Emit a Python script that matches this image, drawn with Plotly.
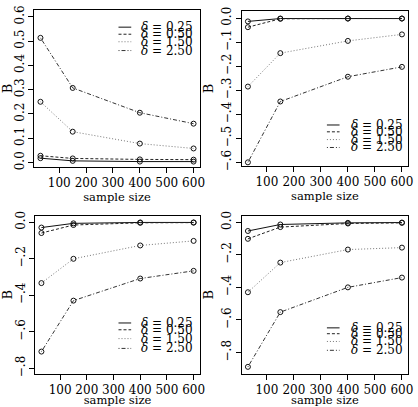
import plotly.graph_objects as go
from plotly.subplots import make_subplots

sample_size = [30, 150, 400, 600]
delta_labels = ["0.25", "0.50", "1.50", "2.50"]

# panel 1 (top-left)
p1_d025 = [0.018, 0.007, 0.004, 0.004]
p1_d050 = [0.028, 0.017, 0.013, 0.012]
p1_d150 = [0.250, 0.127, 0.078, 0.058]
p1_d250 = [0.513, 0.307, 0.205, 0.160]
# panel 2 (top-right)
p2_d025 = [-0.014, -0.002, -0.002, -0.002]
p2_d050 = [-0.038, -0.003, -0.002, -0.002]
p2_d150 = [-0.285, -0.146, -0.095, -0.068]
p2_d250 = [-0.600, -0.347, -0.244, -0.203]
# panel 3 (bottom-left)
p3_d025 = [-0.030, -0.007, -0.002, -0.002]
p3_d050 = [-0.060, -0.016, -0.004, -0.003]
p3_d150 = [-0.334, -0.201, -0.128, -0.103]
p3_d250 = [-0.709, -0.430, -0.309, -0.267]
# panel 4 (bottom-right)
p4_d025 = [-0.054, -0.014, -0.004, -0.002]
p4_d050 = [-0.102, -0.030, -0.008, -0.004]
p4_d150 = [-0.430, -0.248, -0.168, -0.156]
p4_d250 = [-0.888, -0.552, -0.400, -0.340]

panels = [
    [p1_d025, p1_d050, p1_d150, p1_d250],
    [p2_d025, p2_d050, p2_d150, p2_d250],
    [p3_d025, p3_d050, p3_d150, p3_d250],
    [p4_d025, p4_d050, p4_d150, p4_d250],
]

x_ticks = [100, 200, 300, 400, 500, 600]
y_tickvals = [
    [0.0, 0.1, 0.2, 0.3, 0.4, 0.5, 0.6],
    [-0.6, -0.5, -0.4, -0.3, -0.2, -0.1, 0.0],
    [-0.8, -0.6, -0.4, -0.2, 0.0],
    [-0.8, -0.6, -0.4, -0.2, 0.0],
]
y_ticktext = [
    ["0.0", "0.1", "0.2", "0.3", "0.4", "0.5", "0.6"],
    ["\u2212.6", "\u2212.5", "\u2212.4", "\u2212.3", "\u2212.2", "\u2212.1", "0.0"],
    ["\u2212.8", "\u2212.6", "\u2212.4", "\u2212.2", "0.0"],
    ["\u2212.8", "\u2212.6", "\u2212.4", "\u2212.2", "0.0"],
]
y_ranges = [[-0.018, 0.628], [-0.615, 0.03], [-0.83, 0.035], [-0.93, 0.04]]

dashes = ["solid", "3px,2px", "1px,2px", "1px,2px,4px,2px"]
colors = ["#111111", "#222222", "#777777", "#333333"]

FONT = "DejaVu Serif"

fig = make_subplots(rows=2, cols=2)

positions = [(1, 1), (1, 2), (2, 1), (2, 2)]
for k, (r, c) in enumerate(positions):
    for j, ys in enumerate(panels[k]):
        fig.add_trace(go.Scatter(
            x=sample_size, y=ys, mode="lines+markers",
            line=dict(color=colors[j], width=1, dash=dashes[j]),
            marker=dict(symbol="circle-open", size=5, color="#111111",
                        line=dict(width=1, color="#111111")),
            showlegend=False), row=r, col=c)

x_domains = [[0.0742, 0.4785], [0.5813, 0.988], [0.0766, 0.4785], [0.5813, 0.988]]
y_domains = [[0.5921, 0.9877], [0.5946, 0.9853], [0.0713, 0.4693], [0.0713, 0.4693]]

for k in range(4):
    xa = "xaxis" if k == 0 else f"xaxis{k+1}"
    ya = "yaxis" if k == 0 else f"yaxis{k+1}"
    fig.layout[xa].update(
        domain=x_domains[k], range=[7.2, 622.8], tickvals=x_ticks, tickangle=0,
        ticks="outside", ticklen=5, tickcolor="black", showline=True,
        linecolor="black", linewidth=1, mirror=True, showgrid=False,
        zeroline=False, tickfont=dict(family=FONT, size=12, color="black"),
        title=dict(text="sample size", standoff=0,
                   font=dict(family=FONT, size=11.5, color="black")))
    fig.layout[ya].update(
        domain=y_domains[k], range=y_ranges[k], tickvals=y_tickvals[k],
        ticktext=y_ticktext[k], tickangle=-90,
        ticks="outside", ticklen=5, tickcolor="black", showline=True,
        linecolor="black", linewidth=1, mirror=True, showgrid=False,
        zeroline=False, tickfont=dict(family=FONT, size=12, color="black"),
        title=dict(text="B", standoff=3,
                   font=dict(family=FONT, size=13, color="black")))

# legends drawn inside each panel
leg_line_x = [(0.509, 0.586), (0.512, 0.588), (0.506, 0.583), (0.512, 0.588)]
leg_text_x = [0.633, 0.647, 0.630, 0.647]
leg_rows = [
    [0.89, 0.845, 0.797, 0.741],
    [0.264, 0.22, 0.17, 0.119],
    [0.321, 0.278, 0.222, 0.16],
    [0.29, 0.253, 0.204, 0.148],
]
for k in range(4):
    xr = "x domain" if k == 0 else f"x{k+1} domain"
    yr = "y domain" if k == 0 else f"y{k+1} domain"
    for j in range(4):
        yy = leg_rows[k][j]
        fig.add_shape(type="line", xref=xr, yref=yr,
                      x0=leg_line_x[k][0], x1=leg_line_x[k][1], y0=yy, y1=yy,
                      line=dict(color=colors[j], width=1, dash=dashes[j]))
        fig.add_annotation(xref=xr, yref=yr, x=leg_text_x[k], y=yy,
                           text=f"<i>\u03b4</i> = {delta_labels[j]}",
                           showarrow=False, xanchor="left", yanchor="middle",
                           font=dict(family=FONT, size=12, color="black"))

fig.update_layout(width=418, height=407, margin=dict(l=0, r=0, t=0, b=0),
                  paper_bgcolor="white", plot_bgcolor="white",
                  font=dict(family=FONT, color="black"))

fig.write_html("out.html")
